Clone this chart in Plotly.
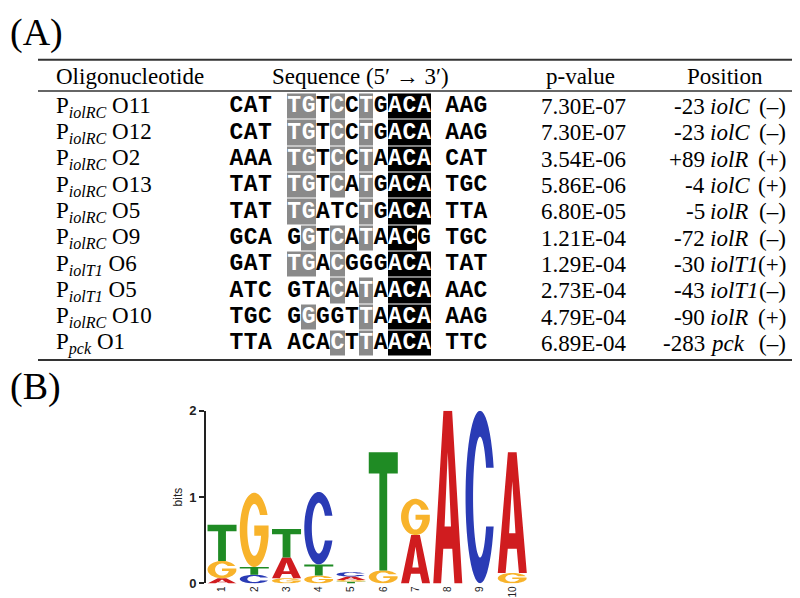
import math
import numpy as np
import plotly.graph_objects as go

# ---------------- Table data ----------------
promoter = ["iolRC", "iolRC", "iolRC", "iolRC", "iolRC", "iolRC", "iolT1", "iolT1", "iolRC", "pck"]
oligo_id = ["O11", "O12", "O2", "O13", "O5", "O9", "O6", "O5", "O10", "O1"]
left_flank = ["CAT", "CAT", "AAA", "TAT", "TAT", "GCA", "GAT", "ATC", "TGC", "TTA"]
core_seq = ["TGTCCTGACA", "TGTCCTGACA", "TGTCCTAACA", "TGTCATGACA", "TGATCTGACA",
            "GGTCATAACG", "TGACGGGACA", "GTACATAACA", "GGGGTTAACA", "ACACTTAACA"]
right_flank = ["AAG", "AAG", "CAT", "TGC", "TTA", "TGC", "TAT", "AAC", "AAG", "TTC"]
# shading per core base: 0 = none, 1 = grey, 2 = black
shading = ["1101010222", "1101010222", "1101010222", "1101010222", "1100010222",
           "0101010220", "1101000222", "0001010222", "0100010222", "0001010222"]
p_values = ["7.30E-07", "7.30E-07", "3.54E-06", "5.86E-06", "6.80E-05",
            "1.21E-04", "1.29E-04", "2.73E-04", "4.79E-04", "6.89E-04"]
pos_offset = ["-23", "-23", "+89", "-4", "-5", "-72", "-30", "-43", "-90", "-283"]
pos_gene = ["iolC", "iolC", "iolR", "iolC", "iolR", "iolR", "iolT1", "iolT1", "iolR", "pck"]
pos_strand = ["(–)", "(–)", "(+)", "(+)", "(–)", "(–)", "(+)", "(–)", "(+)", "(–)"]
headers = ["Oligonucleotide", "Sequence (5′ → 3′)", "p-value", "Position"]

# ---------------- Logo data (bits) ----------------
logo_pos = [1, 2, 3, 4, 5, 6, 7, 8, 9, 10]
bits_A = [0.06, 0.00, 0.24, 0.00, 0.04, 0.00, 0.56, 2.00, 0.00, 1.40]
bits_C = [0.00, 0.10, 0.00, 0.84, 0.05, 0.00, 0.00, 0.00, 2.00, 0.00]
bits_G = [0.20, 0.86, 0.06, 0.09, 0.02, 0.15, 0.42, 0.00, 0.00, 0.12]
bits_T = [0.42, 0.09, 0.33, 0.13, 0.02, 1.37, 0.00, 0.00, 0.00, 0.00]
stack_order = ["AGT", "CTG", "GAT", "GTC", "TGAC", "GT", "AG", "A", "C", "GA"]  # bottom -> top

base_colors = {"A": "#D01C1F", "C": "#2A3BB5", "G": "#F8B32B", "T": "#1F8B24"}

W, H = 800, 598
ROW0, ROWH = 94.0, 27.0


def ry(py):
    return (py - ROW0) / ROWH


SERIF = "Liberation Serif"
FS = 23

fig = go.Figure()

# shaded cells
core_x = [279 + 14.4 * (j + 0.5) for j in range(10)]
zmat = [[int(c) for c in s] for s in shading]
fig.add_trace(go.Heatmap(
    x=core_x, y=list(range(len(core_seq))), z=zmat, zmin=0, zmax=2,
    colorscale=[[0, "white"], [0.25, "white"], [0.25, "#8a8a8a"], [0.75, "#8a8a8a"],
                [0.75, "black"], [1, "black"]],
    showscale=False, xgap=0, ygap=1, hoverinfo="skip", xaxis="x", yaxis="y"))

# sequence letters
left_x = [228.5, 242.7, 256.9]
right_x = [444.1, 458.3, 472.5]
lx, ly, lt, lc = [], [], [], []
for i in range(len(core_seq)):
    for k, ch in enumerate(left_flank[i]):
        lx.append(left_x[k]); ly.append(i); lt.append(ch); lc.append("black")
    for j, ch in enumerate(core_seq[i]):
        lx.append(core_x[j]); ly.append(i); lt.append(ch)
        lc.append("white" if shading[i][j] != "0" else "black")
    for k, ch in enumerate(right_flank[i]):
        lx.append(right_x[k]); ly.append(i); lt.append(ch); lc.append("black")
fig.add_trace(go.Scatter(
    x=lx, y=ly, text=lt, mode="text", textposition="middle center",
    textfont=dict(family="Liberation Mono", size=23, color=lc, weight="bold"),
    hoverinfo="skip", showlegend=False, xaxis="x", yaxis="y"))

ann = []
# panel labels
ann.append(dict(x=0, y=ry(18), text="(A)", xanchor="left", yanchor="middle",
                font=dict(family=SERIF, size=38, color="black"), showarrow=False, xref="x", yref="y"))
ann.append(dict(x=0, y=ry(381), text="(B)", xanchor="left", yanchor="middle",
                font=dict(family=SERIF, size=38, color="black"), showarrow=False, xref="x", yref="y"))
# header
hy = ry(63)
for txt, xx, anc in zip(headers, [46, 352, 572, 717], ["left", "center", "center", "center"]):
    ann.append(dict(x=xx, y=hy, text=txt, xanchor=anc, yanchor="middle", showarrow=False,
                    font=dict(family=SERIF, size=FS, color="black"), xref="x", yref="y"))
# rows
for i in range(len(core_seq)):
    f = dict(family=SERIF, size=FS, color="black")
    ann.append(dict(x=46, y=i, text=f"P<sub><i>{promoter[i]}</i></sub> {oligo_id[i]}",
                    xanchor="left", yanchor="middle", showarrow=False, font=f, xref="x", yref="y"))
    ann.append(dict(x=575, y=i, text=p_values[i], xanchor="center", yanchor="middle",
                    showarrow=False, font=f, xref="x", yref="y"))
    ann.append(dict(x=699, y=i, text=pos_offset[i], xanchor="right", yanchor="middle",
                    showarrow=False, font=f, xref="x", yref="y"))
    ann.append(dict(x=700, y=i, text=f"<i>{pos_gene[i]}</i>", xanchor="left", yanchor="middle",
                    showarrow=False, font=f, xref="x", yref="y"))
    ann.append(dict(x=780, y=i, text=pos_strand[i], xanchor="right", yanchor="middle",
                    showarrow=False, font=f, xref="x", yref="y"))

shapes = []
for py, lw in [(46, 2), (78, 1.5), (354, 2)]:
    shapes.append(dict(type="line", x0=30, x1=790, y0=ry(py), y1=ry(py), xref="x", yref="y",
                       line=dict(color="#333333", width=lw)))


# ---------------- Logo glyphs ----------------
def ell(cx, cy, rx, ryy, a0, a1, n=48):
    t = np.radians(np.linspace(a0, a1, n))
    return list(zip(cx + rx * np.cos(t), cy + ryy * np.sin(t)))


def glyph(b):
    if b == "T":
        return [[(0, 1), (1, 1), (1, 0.82), (0.635, 0.82), (0.635, 0), (0.365, 0), (0.365, 0.82), (0, 0.82)]]
    if b == "A":
        return [[(0, 0), (0.35, 1), (0.65, 1), (1, 0), (0.73, 0), (0.655, 0.2), (0.345, 0.2), (0.27, 0)],
                [(0.39, 0.33), (0.61, 0.33), (0.5, 0.76)]]
    tx, ty = 0.26, 0.15
    rxi, ryi = 0.5 - tx, 0.5 - ty
    if b == "C":
        yt = 0.17
        ao = math.degrees(math.asin(yt / 0.5))
        ai = math.degrees(math.asin(yt / ryi))
        outer = ell(0.5, 0.5, 0.5, 0.5, ao, 360 - ao)
        inner = ell(0.5, 0.5, rxi, ryi, 360 - ai, ai)
        return [outer + inner]
    # G
    yt = 0.2
    ao = math.degrees(math.asin(yt / 0.5))
    ai = math.degrees(math.asin(yt / ryi))
    outer = ell(0.5, 0.5, 0.5, 0.5, ao, 350)
    xe = outer[-1][0]
    bar_t, bar_b = 0.56, 0.42
    thi = math.asin((bar_b - 0.5) / ryi)
    xi = 0.5 + rxi * math.cos(thi)
    inner = ell(0.5, 0.5, rxi, ryi, 360 + math.degrees(thi), ai)
    pts = outer + [(xe, bar_t), (0.5, bar_t), (0.5, bar_b), (xi, bar_b)] + inner
    return [pts]


def glyph_path(b, xc, y0, h, hw=0.45):
    parts = []
    for poly in glyph(b):
        coords = [(xc - hw + 2 * hw * u, y0 + h * v) for u, v in poly]
        s = "M " + " L ".join(f"{x:.4f},{y:.4f}" for x, y in coords) + " Z"
        parts.append(s)
    return " ".join(parts)


bits = {"A": bits_A, "C": bits_C, "G": bits_G, "T": bits_T}
totals = []
for p in range(len(logo_pos)):
    y0 = 0.0
    for b in stack_order[p]:
        h = bits[b][p]
        if h <= 0:
            continue
        shapes.append(dict(type="path", path=glyph_path(b, logo_pos[p], y0, h), xref="x2", yref="y2",
                           fillcolor=base_colors[b], line=dict(width=0), fillrule="evenodd", layer="above"))
        y0 += h
    totals.append(y0)

fig.add_trace(go.Scatter(x=logo_pos, y=totals, mode="markers", marker=dict(opacity=0, size=1),
                         hoverinfo="skip", showlegend=False, xaxis="x2", yaxis="y2"))

x_left_px, pitch = 197.9, 32.25
fig.update_layout(
    width=W, height=H, margin=dict(l=0, r=0, t=0, b=0),
    paper_bgcolor="white", plot_bgcolor="rgba(0,0,0,0)", showlegend=False,
    xaxis=dict(domain=[0, 1], range=[0, W], visible=False, fixedrange=True),
    yaxis=dict(domain=[0, 1], range=[ry(H), ry(0)], visible=False, fixedrange=True),
    xaxis2=dict(domain=[x_left_px / W, (x_left_px + 10 * pitch) / W], range=[0.5, 10.5], anchor="y2",
                showgrid=False, zeroline=False, showline=False, ticks="",
                tickvals=logo_pos, ticktext=[str(v) for v in logo_pos], tickangle=-90,
                tickfont=dict(family="Liberation Sans", size=10, color="#222222"), fixedrange=True),
    yaxis2=dict(domain=[(H - 583) / H, (H - 406) / H], range=[0, 2], anchor="x2",
                showgrid=False, zeroline=False, showline=True, linecolor="#222222", linewidth=1.5,
                ticks="outside", ticklen=5, tickwidth=1.5, tickcolor="#222222", tickvals=[0, 1, 2],
                tickfont=dict(family="Liberation Sans", size=13, color="#222222", weight="bold"),
                title=dict(text="bits", font=dict(family="Liberation Sans", size=12, color="#222222"),
                           standoff=4), fixedrange=True),
    annotations=ann, shapes=shapes,
)

fig.write_html("out.html")
